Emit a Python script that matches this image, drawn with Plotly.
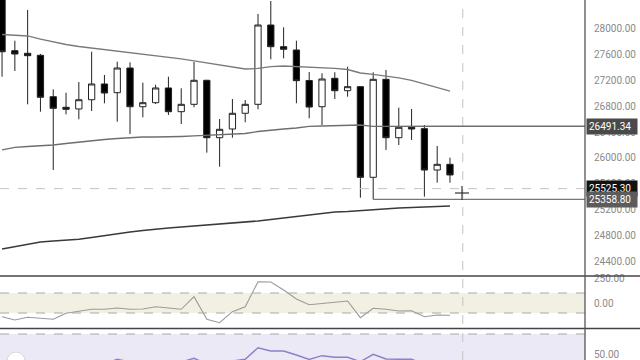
import plotly.graph_objects as go

# ---------------- data ----------------
bar_index = list(range(36))

opens  = [28492, 27661, 27621, 27590, 26949, 26785, 26759, 26902, 27146, 27011,
          27393, 26794, 26856, 27084, 26717, 26831, 27203, 26314, 26449, 26692,
          26831, 28059, 27723, 27672, 27200, 26794, 27234, 27042, 27104, 25701,
          27218, 26314, 26475, 26454, 25814, 25902]
highs  = [28678, 27816, 28291, 27610, 27063, 27011, 27176, 27645, 27285, 27491,
          27481, 27166, 27135, 27259, 27079, 27486, 27210, 26604, 26913, 26898,
          28229, 28430, 28023, 27816, 27331, 27311, 27327, 27413, 27110, 27327,
          27362, 26779, 26759, 26511, 26186, 26005]
lows   = [27258, 27347, 26831, 26717, 25814, 26676, 26599, 26728, 26847, 26562,
          26372, 26630, 26836, 26666, 26526, 26785, 26082, 25865, 26314, 26553,
          26754, 27528, 27543, 26847, 26615, 26511, 26913, 26949, 25385, 25358.80,
          26124, 26201, 26279, 25401, 25618, 25618]
closes = [27645, 27610, 27584, 26940, 26769, 26754, 26902, 27146, 27006, 27393,
          26794, 26856, 27084, 26717, 26831, 27203, 26314, 26444, 26692, 26831,
          28059, 27723, 27683, 27197, 26789, 27223, 27042, 27104, 25701, 27218,
          26314, 26475, 26449, 25814, 25902, 25737]

ma_upper = [27912, 27904, 27889, 27842, 27796, 27757, 27726, 27703, 27680, 27656,
            27633, 27610, 27587, 27556, 27533, 27502, 27471, 27440, 27409, 27378,
            27386, 27416, 27424, 27416, 27401, 27401, 27386, 27370, 27316, 27293,
            27270, 27239, 27200, 27146, 27091, 27037]
ma_mid   = [26124, 26163, 26178, 26186, 26201, 26224, 26248, 26263, 26286, 26302,
            26317, 26325, 26325, 26325, 26333, 26341, 26348, 26364, 26372, 26379,
            26410, 26433, 26449, 26464, 26488, 26495, 26503, 26511, 26511, 26488,
            26488, 26488, 26488, 26488, 26490, 26491.34]
ma_lower = [24591, 24630, 24669, 24700, 24715, 24731, 24741, 24769, 24800, 24831,
            24854, 24877, 24901, 24916, 24932, 24947, 24963, 24971, 24986, 25001,
            25025, 25048, 25071, 25094, 25125, 25149, 25164, 25172, 25187, 25203,
            25218, 25226, 25234, 25241, 25249, 25257]

cci = [-137, -170, -143, -153, -163, -103, -80, -63, -63, -50,
       -63, -60, -37, -50, -63, 63, -163, -197, -87, -37,
       213, 210, 130, 40, -17, -5, 10, 20, -147, -53,
       -63, -80, -77, -137, -120, -123]

rsi = [40, 38, 39, 36, 35, 37, 39, 41, 40, 44.7,
       42, 42, 42, 42, 42, 45.7, 40, 39, 43, 44.7,
       56.3, 53, 53, 49, 44.5, 48.3, 46.7, 46.7, 42.3, 49.7,
       45, 44.7, 44.7, 40, 41, 41]

main_ticks = [24400, 24800, 25200, 25600, 26000, 26400, 26800, 27200, 27600, 28000, 28400]
cci_ticks = [0, 250]
rsi_ticks = [50]

ma_label = 26491.34
cursor_price = 25525.30
hline_price = 25358.80
hline_start = 29
cursor_bar = 36

# ---------------- figure ----------------
W, H = 640, 360
PW = 585            # plot-area width in px (paper x unit)
tick_font = dict(family="Roboto", size=10, color="#8a8a8a")

fig = go.Figure()

fig.add_trace(go.Candlestick(
    x=bar_index, open=opens, high=highs, low=lows, close=closes,
    increasing=dict(fillcolor="#ffffff", line=dict(color="#222222", width=1)),
    decreasing=dict(fillcolor="#000000", line=dict(color="#222222", width=1)),
    whiskerwidth=0, xaxis="x", yaxis="y", showlegend=False, hoverinfo="skip"))

fig.add_trace(go.Scatter(x=bar_index, y=ma_upper, mode="lines",
                         line=dict(color="#7a7a7a", width=1.3), xaxis="x", yaxis="y",
                         showlegend=False, hoverinfo="skip"))
fig.add_trace(go.Scatter(x=bar_index, y=ma_mid, mode="lines",
                         line=dict(color="#6e6e6e", width=1.3), xaxis="x", yaxis="y",
                         showlegend=False, hoverinfo="skip"))
fig.add_trace(go.Scatter(x=bar_index, y=ma_lower, mode="lines",
                         line=dict(color="#3a3a3a", width=1.5), xaxis="x", yaxis="y",
                         showlegend=False, hoverinfo="skip"))

fig.add_trace(go.Scatter(x=bar_index, y=cci, mode="lines",
                         line=dict(color="#9a9a9a", width=1.1), xaxis="x", yaxis="y2",
                         showlegend=False, hoverinfo="skip"))
fig.add_trace(go.Scatter(x=bar_index, y=rsi, mode="lines",
                         line=dict(color="#8f7fc8", width=1.4), xaxis="x", yaxis="y3",
                         showlegend=False, hoverinfo="skip"))

shapes = []
# CCI band
shapes.append(dict(type="rect", xref="x domain", x0=0, x1=1, yref="y2", y0=-100, y1=100,
                   fillcolor="#f2f0e2", line=dict(width=0), layer="below"))
for v in (100, -100):
    shapes.append(dict(type="line", xref="x domain", x0=0, x1=1, yref="y2", y0=v, y1=v,
                       line=dict(color="#a8a8a8", width=1, dash="dash")))
# RSI band
shapes.append(dict(type="rect", xref="x domain", x0=0, x1=1, yref="y3", y0=30, y1=70,
                   fillcolor="#ece9f7", line=dict(width=0), layer="below"))
shapes.append(dict(type="line", xref="x domain", x0=0, x1=1, yref="y3", y0=70, y1=70,
                   line=dict(color="#a8a8a8", width=1, dash="dash")))
# crosshair
shapes.append(dict(type="line", xref="x", x0=cursor_bar, x1=cursor_bar, yref="paper", y0=0, y1=1,
                   line=dict(color="#c4c4c4", width=1, dash="dash")))
shapes.append(dict(type="line", xref="x domain", x0=0, x1=1, yref="y", y0=cursor_price, y1=cursor_price,
                   line=dict(color="#c4c4c4", width=1, dash="dash")))
# price lines
shapes.append(dict(type="line", xref="x", x0=bar_index[-1], x1=46, yref="y", y0=ma_label, y1=ma_label,
                   line=dict(color="#6e6e6e", width=1.3)))
shapes.append(dict(type="line", xref="x", x0=hline_start, x1=46, yref="y", y0=hline_price, y1=hline_price,
                   line=dict(color="#777777", width=1.3)))
# pane separators and price-axis border
for yp in ((H - 276) / H, (H - 328.5) / H):
    shapes.append(dict(type="line", xref="paper", x0=0, x1=W / PW, yref="paper", y0=yp, y1=yp,
                       line=dict(color="#444444", width=1.5)))
shapes.append(dict(type="line", xref="paper", x0=1, x1=1, yref="paper", y0=0, y1=1,
                   line=dict(color="#555555", width=1.3)))
# cursor "+"
cx, cy = 462 / PW, (H - 193) / H
shapes.append(dict(type="line", xref="paper", yref="paper", x0=cx - 7 / PW, x1=cx + 7 / PW, y0=cy, y1=cy,
                   line=dict(color="#333333", width=1.2)))
shapes.append(dict(type="line", xref="paper", yref="paper", x0=cx, x1=cx, y0=cy - 7 / H, y1=cy + 7 / H,
                   line=dict(color="#333333", width=1.2)))
# round button at bottom-left
shapes.append(dict(type="circle", xref="paper", yref="paper", x0=7 / PW, x1=25 / PW,
                   y0=(H - 370) / H, y1=(H - 352) / H,
                   fillcolor="#ffffff", line=dict(color="#d8d8d8", width=1)))

annotations = []
for price, bg in ((ma_label, "#4a4a4a"), (cursor_price, "#121212"), (hline_price, "#5c5c5c")):
    annotations.append(dict(xref="paper", x=586 / PW, xanchor="left", yref="y", y=price, yanchor="middle",
                            text=f"{price:.2f}", showarrow=False, bgcolor=bg, borderpad=2,
                            width=46, align="left",
                            font=dict(family="Roboto", size=10, color="#ffffff")))

axis_common = dict(side="right", anchor="x", showgrid=False, zeroline=False, showline=False,
                   ticks="", tickfont=tick_font, tickformat=".2f", ticklabelstandoff=8,
                   fixedrange=True, automargin=False)

fig.update_layout(
    width=W, height=H,
    margin=dict(l=0, r=W - PW, t=0, b=0, pad=0, autoexpand=False),
    paper_bgcolor="#ffffff", plot_bgcolor="#ffffff",
    xaxis=dict(domain=[0, 1], range=[-0.16, 45.55], visible=False,
               rangeslider=dict(visible=False), fixedrange=True, automargin=False),
    yaxis=dict(domain=[(H - 276) / H, 1], range=[24173, 28446], tickvals=main_ticks, **axis_common),
    yaxis2=dict(domain=[(H - 328) / H, (H - 277) / H], range=[-250, 260], tickvals=cci_ticks, **axis_common),
    yaxis3=dict(domain=[0, (H - 329) / H], range=[44, 75], tickvals=rsi_ticks, **axis_common),
    shapes=shapes, annotations=annotations, showlegend=False,
)

fig.write_html("out.html", config=dict(responsive=False, displayModeBar=False),
               post_script="document.body.style.margin='0';document.body.style.overflow='hidden';")
